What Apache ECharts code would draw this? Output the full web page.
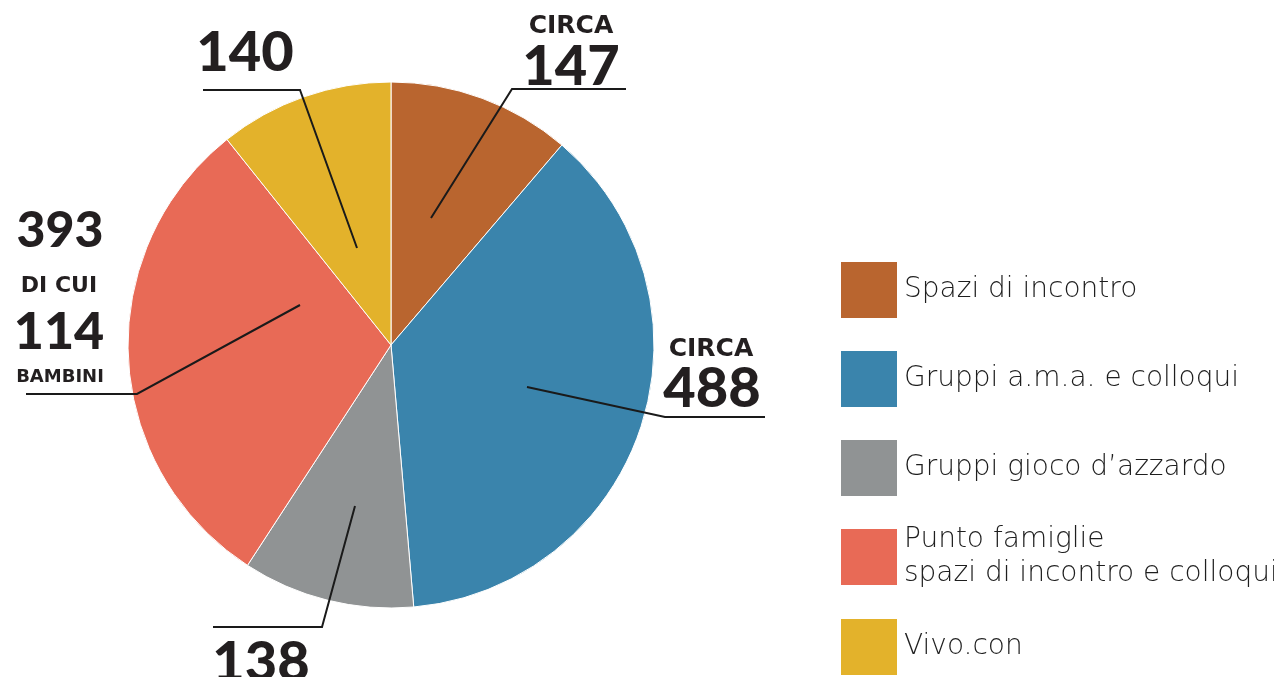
<!DOCTYPE html>
<html>
<head>
<meta charset="utf-8">
<script src="https://cdn.jsdelivr.net/npm/echarts@6/dist/echarts.min.js"></script>
<style>
	html, body { margin: 0; padding: 0; background: #fff; }
	#chart { width: 1274px; height: 677px; }
</style>
</head>
<body>
<div id="chart"></div>
<script>
// dati del grafico
var categories = [
	'Spazi di incontro',
	'Gruppi a.m.a. e colloqui',
	'Gruppi gioco d\u2019azzardo',
	'Punto famiglie\nspazi di incontro e colloqui',
	'Vivo.con'
]
var values = [147, 488, 138, 393, 140]
var colors = ['#B9652F', '#3A84AC', '#909394', '#E86A56', '#E3B22B']

var ink = '#231F20'

// numeri grandi (Lato black), etichette piccole (DejaVu bold, piu larga)
function _num(x, y, txt, size) {
	return {
		type: 'text',
		x: x,
		y: y,
		style: {
			text: txt,
			fontFamily: 'Lato',
			fontWeight: 900,
			fontSize: size,
			fill: ink,
			textAlign: 'center',
			textVerticalAlign: 'middle'
		}
	}
}

function _word(x, y, txt, size) {
	return {
		type: 'text',
		x: x,
		y: y,
		style: {
			text: txt,
			fontFamily: 'DejaVu Sans',
			fontWeight: 'bold',
			fontSize: size,
			fill: ink,
			textAlign: 'center',
			textVerticalAlign: 'middle'
		}
	}
}

function _line(points) {
	return {
		type: 'polyline',
		shape: { points: points },
		style: { stroke: '#1a1a1a', lineWidth: 2, fill: null },
		z: 10
	}
}

function _legends() {
	var list = []
	var tops = [262, 351, 440, 521, 619]
	categories.forEach(function(name, i) {
		list.push({
			data: [name],
			orient: 'vertical',
			left: 841,
			top: tops[i],
			padding: 0,
			icon: 'rect',
			itemWidth: 56,
			itemHeight: 56,
			itemStyle: { borderWidth: 0 },
			selectedMode: false,
			textStyle: {
				fontFamily: 'DejaVu Sans',
				fontWeight: 200,
				fontSize: 28,
				lineHeight: 34,
				padding: [4, 0, 0, 2],
				color: '#1e1e1e'
			}
		})
	})
	return list
}

var data = categories.map(function(c, i) {
	return { name: c, value: values[i], itemStyle: { color: colors[i] } }
})

var option = {
	backgroundColor: '#fff',
	animation: false,
	legend: _legends(),
	series: [
		{
			type: 'pie',
			center: [391, 345],
			radius: 263,
			startAngle: 90,
			clockwise: true,
			label: { show: false },
			labelLine: { show: false },
			itemStyle: { borderColor: '#fff', borderWidth: 1 },
			emphasis: { disabled: true },
			data: data
		}
	],
	graphic: [
		// 147
		_word(571, 26, 'CIRCA', 25),
		_num(571, 67, String(values[0]), 56),
		_line([[626, 89], [512, 89], [431, 218]]),
		// 488
		_word(711, 349, 'CIRCA', 25),
		_num(712, 389, String(values[1]), 56),
		_line([[765, 417], [665, 417], [527, 387]]),
		// 138
		_num(261, 663, String(values[2]), 56),
		_line([[213, 627], [322, 627], [355, 506]]),
		// 393 di cui 114
		_num(60, 231, String(values[3]), 50),
		_word(59, 286, 'DI CUI', 22),
		_num(59, 332, '114', 52),
		_word(60, 377, 'BAMBINI', 18),
		_line([[26, 394], [137, 394], [300, 305]]),
		// 140
		_num(245, 53, String(values[4]), 56),
		_line([[203, 90], [300, 90], [357, 248]])
	]
}

var myChart = echarts.init(document.getElementById('chart'))
myChart.setOption(option)
</script>
</body>
</html>
